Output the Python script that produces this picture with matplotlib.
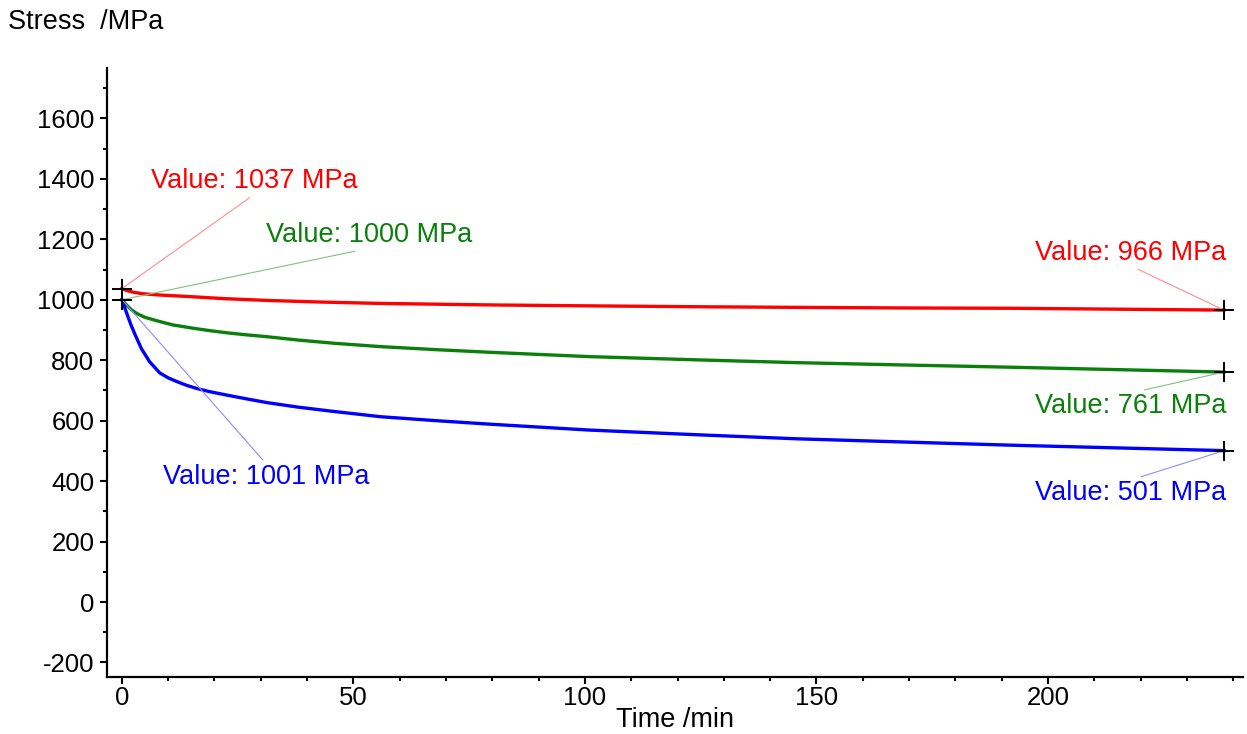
import matplotlib.pyplot as plt
import numpy as np

plt.rcParams['font.family'] = ['Liberation Sans', 'DejaVu Sans']
plt.rcParams['axes.unicode_minus'] = False

# stress relaxation curves
t_red = [0, 1, 2.5, 4.6, 8, 15.4, 22, 31.3, 42, 56, 80, 101, 125, 146, 170, 192, 215, 238]
s_red = [1037, 1031, 1025, 1020, 1016, 1010, 1004, 998, 993, 988, 983, 980, 977, 975, 973, 972, 969, 966]

t_green = [0, 1, 2, 3.2, 5, 8.2, 11, 15.4, 19, 22.6, 27, 31.3, 38, 46, 56, 68, 80, 101,
           125, 146, 170, 192, 215, 238]
s_green = [1000, 983, 968, 955, 942, 928, 917, 906, 898, 891, 884, 878, 867, 856, 845, 835, 826, 812,
           801, 792, 784, 777, 769, 761]

t_blue = [0, 1, 2, 3, 4.25, 6, 8.2, 10, 11.8, 14, 16.1, 19, 22.6, 26, 31.3, 38, 45, 56, 68, 80,
          101, 125, 146, 170, 192, 215, 238]
s_blue = [1001, 958, 916, 880, 838, 795, 758, 742, 730, 717, 707, 696, 685, 675, 660, 645, 632, 613, 600, 588,
          569, 553, 540, 529, 519, 510, 501]

fig = plt.figure(figsize=(12.47, 7.34), dpi=100)
ax = fig.add_axes([107/1247, 1-677/734, (1243-107)/1247, (677-68)/734])

series = [(t_red, s_red, '#ff0000'),
          (t_green, s_green, '#0a800a'),
          (t_blue, s_blue, '#0000ff')]

for t, s, c in series:
    ax.plot(t, s, color=c, lw=2.4, zorder=3, solid_joinstyle='round')
    ax.plot([t[0], t[-1]], [s[0], s[-1]], ls='none', marker='+', color='black',
            ms=15, mew=1.4, zorder=4)

# labels: curve, which end, text position, relpos, colours
labels = [
    (s_red, t_red, 0, (28.7, 1393), (0.5, 0), '#ff0000', '#ff8c8c'),
    (s_green, t_green, 0, (53.5, 1214), (0.5, 0), '#0a800a', '#80c080'),
    (s_blue, t_blue, 0, (31.2, 414), (0.5, 1), '#0000ff', '#8c8cff'),
    (s_red, t_red, -1, (217.9, 1155), (0.5, 0), '#ff0000', '#ff8c8c'),
    (s_green, t_green, -1, (217.9, 649), (0.5, 1), '#0a800a', '#80c080'),
    (s_blue, t_blue, -1, (217.9, 361), (0.5, 1), '#0000ff', '#8c8cff'),
]
for s, t, i, pos, rp, c, lc in labels:
    ax.annotate('Value: %d MPa' % s[i], xy=(t[i], s[i]), xytext=pos,
                ha='center', va='center', color=c, fontsize=19.5,
                arrowprops=dict(arrowstyle='-', color=lc, lw=0.8,
                                relpos=rp, shrinkA=1, shrinkB=0))

ax.set_xlim(-3.2, 242.1)
ax.set_ylim(-248, 1767)
ax.set_xticks([0, 50, 100, 150, 200])
ax.set_xticks(np.arange(10, 241, 10), minor=True)
ax.set_yticks(np.arange(-200, 1601, 200))
ax.set_yticks(np.arange(-100, 1701, 100), minor=True)

for side in ['top', 'right']:
    ax.spines[side].set_visible(False)
for side in ['left', 'bottom']:
    ax.spines[side].set_linewidth(1.6)
ax.tick_params(which='major', length=5, width=1.5, labelsize=18.5, pad=4)
ax.tick_params(axis='x', which='major', pad=1.5)
ax.tick_params(which='minor', length=3, width=1.5)

fig.text(8/1247, 1-22/734, 'Stress  /MPa', fontsize=19.5, va='center', ha='left')
fig.text(675/1247, 1-720/734, 'Time /min', fontsize=19.5, va='center', ha='center')

fig.savefig('out.png', dpi=100)
